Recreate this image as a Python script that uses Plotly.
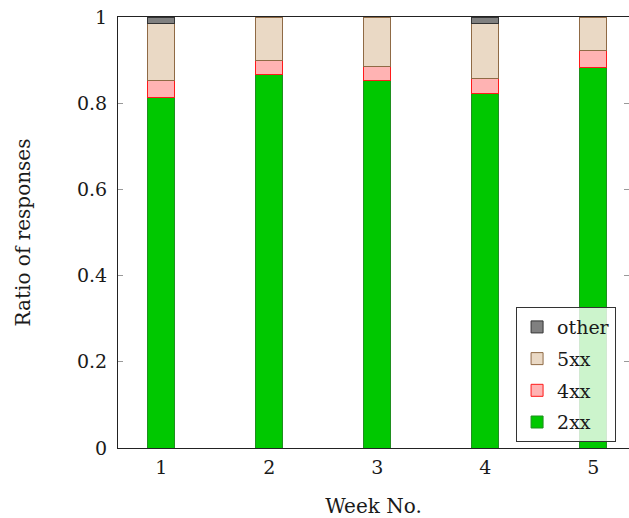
import plotly.graph_objects as go

weeks = [1, 2, 3, 4, 5]
r2xx = [0.814, 0.867, 0.853, 0.823, 0.884]
r4xx = [0.038, 0.033, 0.033, 0.035, 0.039]
r5xx = [0.133, 0.100, 0.114, 0.126, 0.077]
other = [0.015, None, None, 0.016, None]

y_ticks = [0, 0.2, 0.4, 0.6, 0.8, 1.0]
y_tick_text = ["0", "0.2", "0.4", "0.6", "0.8", "1"]

FONT = "DejaVu Serif"

series = [
    ("2xx", r2xx, "#00c800", "#1f8f1f", 4),
    ("4xx", r4xx, "#ffb3b3", "#ff1a1a", 3),
    ("5xx", r5xx, "#ead9c5", "#8f6a45", 2),
    ("other", other, "#808080", "#333333", 1),
]

fig = go.Figure()
for name, vals, fill, line, rank in series:
    fig.add_trace(go.Bar(
        x=weeks, y=vals, name=name, width=0.25,
        legendgroup=name, legendrank=rank,
        marker=dict(color=fill, line=dict(color=line, width=1)),
    ))

fig.update_layout(
    width=629, height=518,
    margin=dict(l=118, r=0, t=17, b=70),
    barmode="stack",
    plot_bgcolor="white", paper_bgcolor="white",
    font=dict(family=FONT, size=19, color="#1a1a1a"),
    showlegend=True,
    legend=dict(
        x=0.779, y=0.327, xanchor="left", yanchor="top",
        traceorder="grouped", tracegroupgap=4,
        bgcolor="rgba(255,255,255,0.8)",
        bordercolor="#333", borderwidth=1,
        font=dict(family=FONT, size=19, color="#1a1a1a"),
    ),
    xaxis=dict(
        range=[0.6, 5.331], tickvals=weeks, ticktext=[str(w) for w in weeks],
        showline=True, linecolor="#222", linewidth=1, mirror=True,
        ticks="", showgrid=False, zeroline=False,
        ticklabelstandoff=2,
        title=dict(text="Week No.", standoff=22, font=dict(family=FONT, size=20)),
    ),
    yaxis=dict(
        range=[0, 1], tickvals=y_ticks, ticktext=y_tick_text,
        showline=True, linecolor="#222", linewidth=1, mirror="ticks",
        ticks="inside", ticklen=5, tickcolor="#999", tickwidth=1,
        showgrid=False, zeroline=False,
        ticklabelstandoff=6,
        title=dict(text="Ratio of responses", standoff=40, font=dict(family=FONT, size=20)),
    ),
)

fig.write_html(
    "out.html",
    config={"displayModeBar": False},
    post_script="document.body.style.margin='0px';document.body.style.overflow='hidden';",
)
